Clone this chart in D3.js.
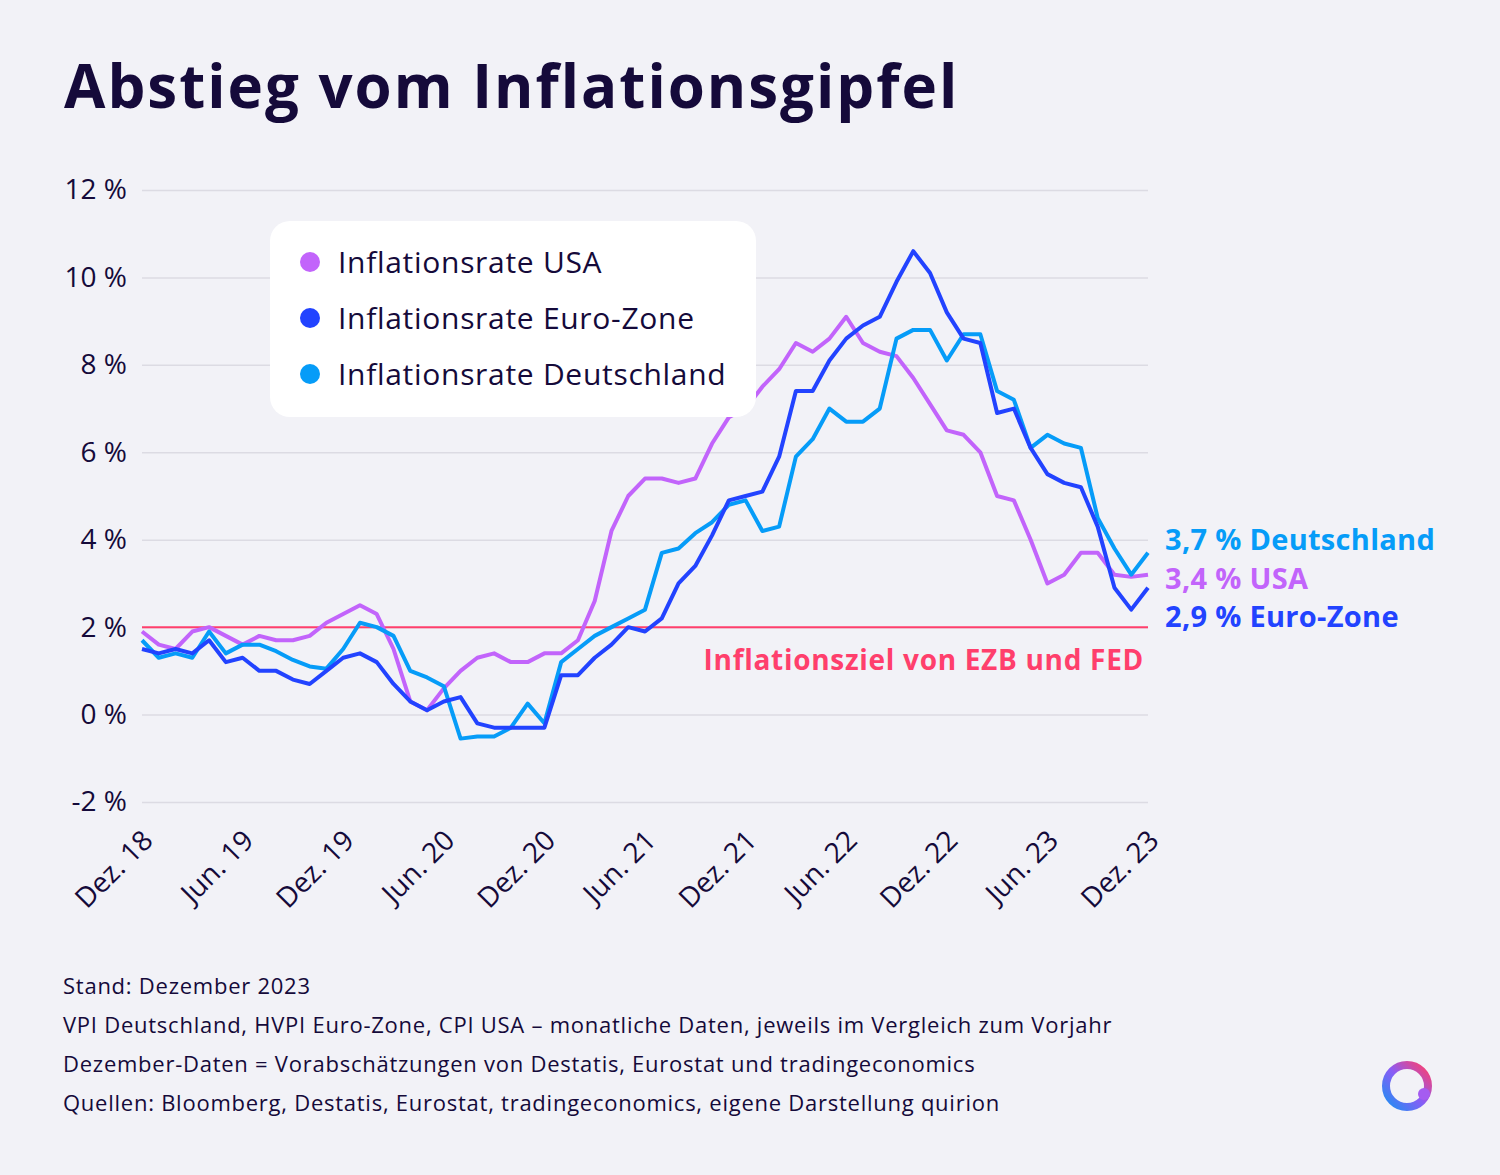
<!DOCTYPE html>
<html>
<head>
<meta charset="utf-8">
<script src="https://cdn.jsdelivr.net/npm/d3@7"></script>
<style>
  html, body { margin: 0; padding: 0; background: #f2f2f7; }
  svg { display: block; font-family: "Open Sans", "Noto Sans", sans-serif; }
</style>
</head>
<body>
<svg id="chart" width="1500" height="1175"></svg>
<script>
// monthly values, Dez. 18 .. Dez. 23 (61 months)
const usa = [1.9,
  1.6, 1.5, 1.9, 2.0, 1.8, 1.6, 1.8, 1.7, 1.7, 1.8, 2.1, 2.3,
  2.5, 2.3, 1.5, 0.3, 0.1, 0.6, 1.0, 1.3, 1.4, 1.2, 1.2, 1.4,
  1.4, 1.7, 2.6, 4.2, 5.0, 5.4, 5.4, 5.3, 5.4, 6.2, 6.8, 7.0,
  7.5, 7.9, 8.5, 8.3, 8.6, 9.1, 8.5, 8.3, 8.2, 7.7, 7.1, 6.5,
  6.4, 6.0, 5.0, 4.9, 4.0, 3.0, 3.2, 3.7, 3.7, 3.2, 3.15, 3.2];
const euro = [1.5,
  1.4, 1.5, 1.4, 1.7, 1.2, 1.3, 1.0, 1.0, 0.8, 0.7, 1.0, 1.3,
  1.4, 1.2, 0.7, 0.3, 0.1, 0.3, 0.4, -0.2, -0.3, -0.3, -0.3, -0.3,
  0.9, 0.9, 1.3, 1.6, 2.0, 1.9, 2.2, 3.0, 3.4, 4.1, 4.9, 5.0,
  5.1, 5.9, 7.4, 7.4, 8.1, 8.6, 8.9, 9.1, 9.9, 10.6, 10.1, 9.2,
  8.6, 8.5, 6.9, 7.0, 6.1, 5.5, 5.3, 5.2, 4.3, 2.9, 2.4, 2.9];
const germany = [1.7,
  1.3, 1.4, 1.3, 1.9, 1.4, 1.6, 1.6, 1.45, 1.25, 1.1, 1.05, 1.5,
  2.1, 2.0, 1.8, 1.0, 0.85, 0.65, -0.55, -0.5, -0.5, -0.3, 0.25, -0.2,
  1.2, 1.5, 1.8, 2.0, 2.2, 2.4, 3.7, 3.8, 4.15, 4.4, 4.8, 4.9,
  4.2, 4.3, 5.9, 6.3, 7.0, 6.7, 6.7, 7.0, 8.6, 8.8, 8.8, 8.1,
  8.7, 8.7, 7.4, 7.2, 6.1, 6.4, 6.2, 6.1, 4.5, 3.8, 3.2, 3.7];

const xTickIdx    = [0, 6, 12, 18, 24, 30, 36, 42, 48, 54, 60];
const xTickLabels = ["Dez. 18", "Jun. 19", "Dez. 19", "Jun. 20", "Dez. 20", "Jun. 21",
                     "Dez. 21", "Jun. 22", "Dez. 22", "Jun. 23", "Dez. 23"];
const yTicks = [-2, 0, 2, 4, 6, 8, 10, 12];
const target = 2;

const seriesNames = ["Inflationsrate USA", "Inflationsrate Euro-Zone", "Inflationsrate Deutschland"];
const endLabels   = ["3,4 % USA", "2,9 % Euro-Zone", "3,7 % Deutschland"];

const footnotes = [
  "Stand: Dezember 2023",
  "VPI Deutschland, HVPI Euro-Zone, CPI USA – monatliche Daten, jeweils im Vergleich zum Vorjahr",
  "Dezember-Daten = Vorabschätzungen von Destatis, Eurostat und tradingeconomics",
  "Quellen: Bloomberg, Destatis, Eurostat, tradingeconomics, eigene Darstellung quirion"
];

const colors = { usa: "#c264fb", euro: "#2243ff", de: "#069cf8", target: "#ff3f6c", ink: "#150a3a" };

const svg = d3.select("#chart");

const x = d3.scaleLinear().domain([0, 60]).range([142, 1148]);
const y = d3.scaleLinear().domain([-2, 12]).range([802, 190]);

// title
svg.append("text")
  .attr("x", 64).attr("y", 108)
  .attr("font-size", 60).attr("font-weight", 700)
  .attr("letter-spacing", 2)
  .attr("fill", colors.ink)
  .text("Abstieg vom Inflationsgipfel");

// grid
svg.append("g")
  .attr("transform", `translate(${x(0)},0)`)
  .call(d3.axisLeft(y).tickValues(yTicks).tickSize(-(x(60) - x(0))).tickFormat(""))
  .call(g => g.select(".domain").remove())
  .call(g => g.selectAll("line").attr("stroke", "#dcdbe3").attr("stroke-width", 1.5));

// y axis labels
svg.append("g")
  .attr("transform", `translate(${x(0)},0)`)
  .call(d3.axisLeft(y).tickValues(yTicks).tickSize(0).tickPadding(15).tickFormat(d => `${d} %`))
  .call(g => g.select(".domain").remove())
  .call(g => g.selectAll("text")
    .attr("font-size", 28).attr("fill", colors.ink)
    .attr("font-family", "'Open Sans', sans-serif"));

// x axis labels
const xAxis = svg.append("g")
  .attr("transform", `translate(0,${y(-2)})`)
  .call(d3.axisBottom(x).tickValues(xTickIdx).tickSize(0).tickFormat((d, i) => xTickLabels[i]))
  .call(g => g.select(".domain").remove());
xAxis.selectAll("text")
  .attr("font-size", 28).attr("fill", colors.ink)
  .attr("font-family", "'Open Sans', sans-serif")
  .attr("text-anchor", "end")
  .attr("dy", 0)
  .attr("transform", "translate(10,38) rotate(-45)");

// target line
svg.append("line")
  .attr("x1", x(0)).attr("x2", x(60))
  .attr("y1", y(target)).attr("y2", y(target))
  .attr("stroke", colors.target).attr("stroke-width", 2);

svg.append("text")
  .attr("x", 1144).attr("y", 670)
  .attr("text-anchor", "end")
  .attr("font-size", 28).attr("font-weight", 700)
  .attr("letter-spacing", 0.7)
  .attr("fill", colors.target)
  .text("Inflationsziel von EZB und FED");

// lines
const line = d3.line().x((d, i) => x(i)).y(d => y(d));
[[usa, colors.usa], [germany, colors.de], [euro, colors.euro]].forEach(([vals, c]) => {
  svg.append("path")
    .datum(vals)
    .attr("fill", "none")
    .attr("stroke", c)
    .attr("stroke-width", 4)
    .attr("stroke-linejoin", "round")
    .attr("d", line);
});

// end labels
const endG = svg.append("g")
  .attr("font-size", 29).attr("font-weight", 700)
  .attr("letter-spacing", 0.3);
endG.append("text").attr("x", 1165).attr("y", 550).attr("fill", colors.de).text(endLabels[2]);
endG.append("text").attr("x", 1165).attr("y", 589).attr("fill", colors.usa).text(endLabels[0]);
endG.append("text").attr("x", 1165).attr("y", 627).attr("fill", colors.euro).text(endLabels[1]);

// legend
const legend = svg.append("g").attr("transform", "translate(270,221)");
legend.append("rect")
  .attr("width", 486).attr("height", 196)
  .attr("rx", 20)
  .attr("fill", "#ffffff");
[colors.usa, colors.euro, colors.de].forEach((c, i) => {
  const row = legend.append("g").attr("transform", `translate(0,${41 + i * 56})`);
  row.append("circle").attr("cx", 40).attr("cy", 0).attr("r", 10).attr("fill", c);
  row.append("text")
    .attr("x", 68).attr("y", 11)
    .attr("font-size", 30)
    .attr("letter-spacing", 0.7)
    .attr("fill", colors.ink)
    .text(seriesNames[i]);
});

// footnotes
svg.append("g")
  .selectAll("text")
  .data(footnotes).enter().append("text")
    .attr("x", 63)
    .attr("y", (d, i) => 994 + i * 39)
    .attr("font-size", 22)
    .attr("letter-spacing", 0.75)
    .attr("fill", colors.ink)
    .text(d => d);

// logo
const defs = svg.append("defs");
const grad = defs.append("linearGradient")
  .attr("id", "logoGrad")
  .attr("x1", "0%").attr("y1", "100%").attr("x2", "100%").attr("y2", "0%");
grad.append("stop").attr("offset", "0%").attr("stop-color", "#1f8ff2");
grad.append("stop").attr("offset", "50%").attr("stop-color", "#8a5cf6");
grad.append("stop").attr("offset", "100%").attr("stop-color", "#ff3f6c");
svg.append("circle")
  .attr("cx", 1407).attr("cy", 1086).attr("r", 21)
  .attr("fill", "none")
  .attr("stroke", "url(#logoGrad)")
  .attr("stroke-width", 8);
svg.append("circle")
  .attr("cx", 1424).attr("cy", 1094).attr("r", 6)
  .attr("fill", "#a55cf0");
</script>
</body>
</html>
